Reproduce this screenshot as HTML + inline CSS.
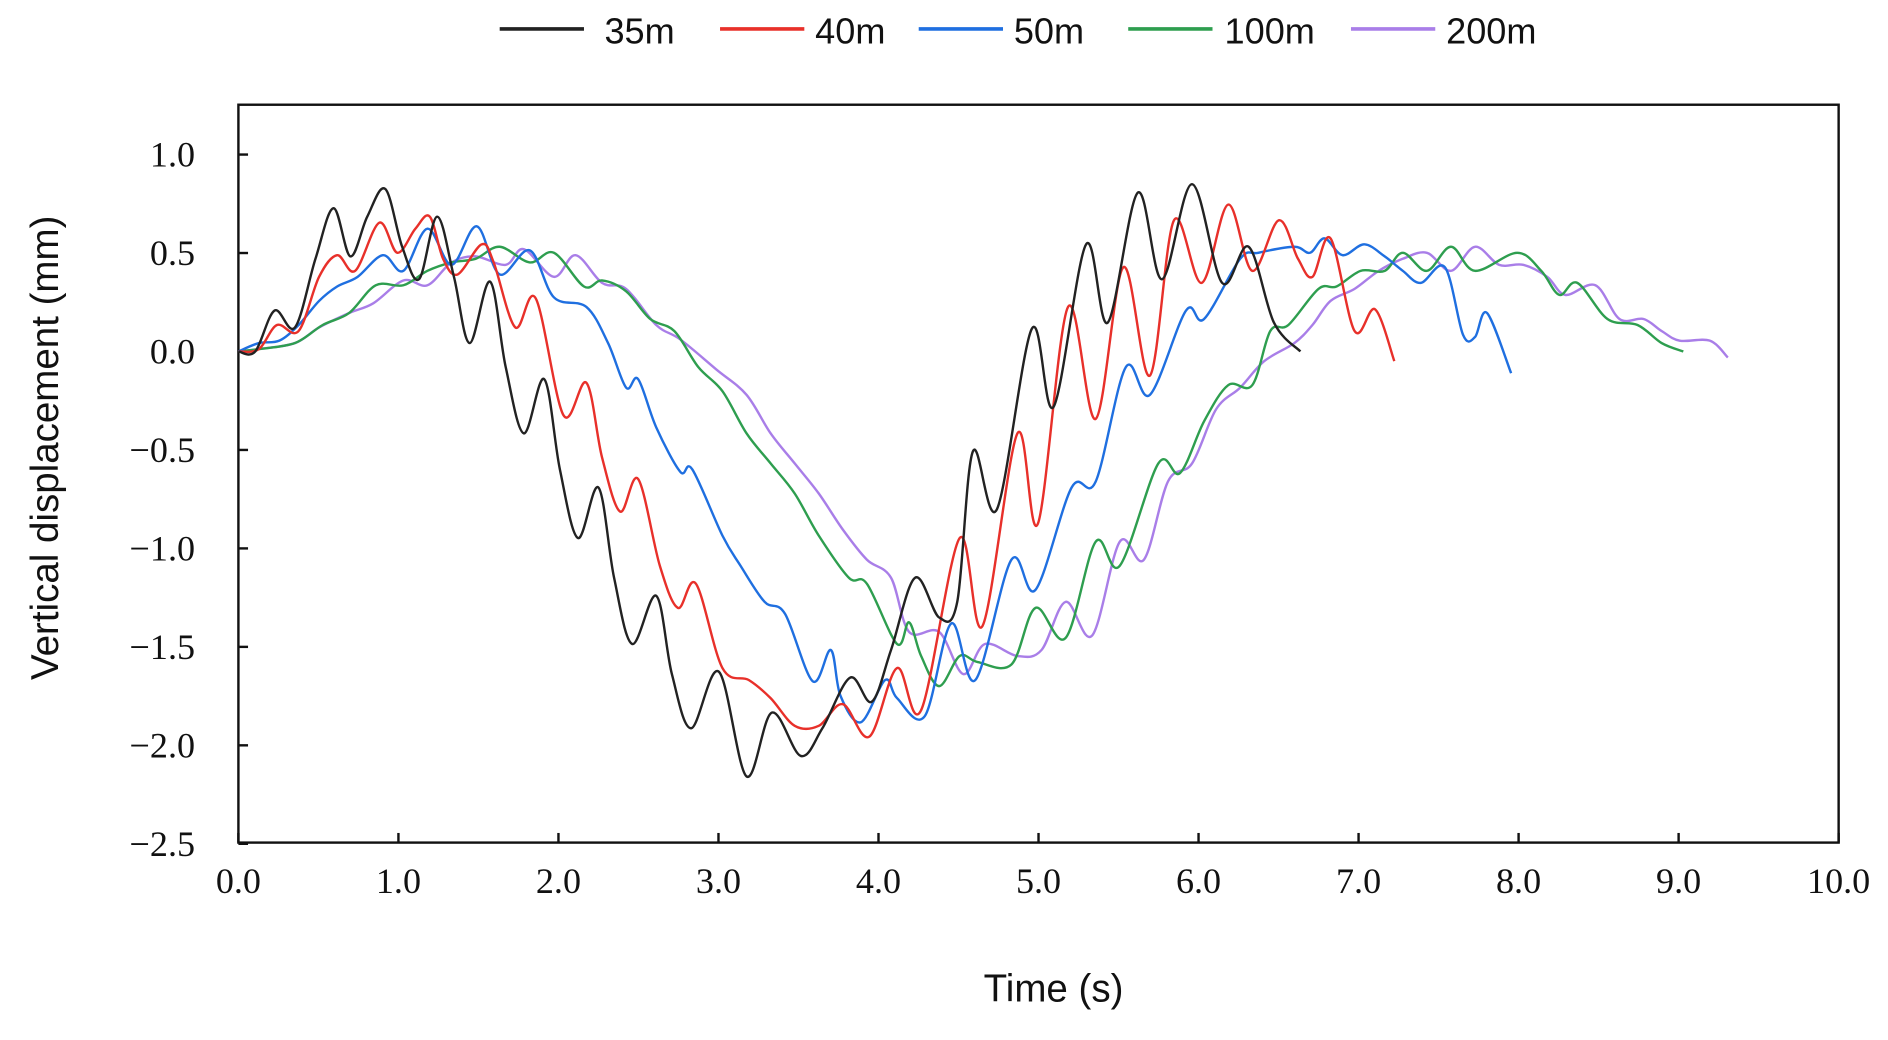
<!DOCTYPE html>
<html><head><meta charset="utf-8"><style>
html,body{margin:0;padding:0;background:#fff;}
svg{display:block;}
.tk{font-family:"Liberation Serif",serif;font-size:30px;fill:#111;}
.lg{font-family:"Liberation Sans",sans-serif;font-size:30px;fill:#111;}
</style></head><body>
<svg id="s" width="1888" height="1040" viewBox="0 0 1568 864" preserveAspectRatio="none" xmlns="http://www.w3.org/2000/svg">
<rect width="1568" height="864" fill="#fff"/>
<g stroke-width="3">
<line x1="415" y1="24" x2="485" y2="24" stroke="#222"/>
<line x1="598" y1="24" x2="668" y2="24" stroke="#e8302a"/>
<line x1="763" y1="24" x2="833" y2="24" stroke="#1f6fe0"/>
<line x1="937" y1="24" x2="1007" y2="24" stroke="#2e9e4f"/>
<line x1="1122" y1="24" x2="1192" y2="24" stroke="#a97ee8"/>
</g>
<text class="lg" x="502" y="36">35m</text>
<text class="lg" x="677" y="36">40m</text>
<text class="lg" x="842" y="36">50m</text>
<text class="lg" x="1017" y="36">100m</text>
<text class="lg" x="1201" y="36">200m</text>
<rect x="198" y="87" width="1329" height="613" fill="none" stroke="#111" stroke-width="2"/>
<g id="ticks" stroke="#111" stroke-width="2"></g>
<g id="labels"></g>
<text x="875" y="832" text-anchor="middle" class="lg" style="font-size:32px">Time (s)</text>
<text transform="translate(48,372) rotate(-90)" text-anchor="middle" class="lg" style="font-size:32px">Vertical displacement (mm)</text>
<g id="curves" fill="none" stroke-width="2" stroke-linejoin="round"></g>
</svg>
<script>
var NS="http://www.w3.org/2000/svg";
function el(t,a,p,txt){var e=document.createElementNS(NS,t);for(var k in a)e.setAttribute(k,a[k]);if(txt)e.textContent=txt;p.appendChild(e);return e;}
var tk=document.getElementById('ticks'),lb=document.getElementById('labels');
for(var i=0;i<=10;i++){var x=198+132.9*i;el('line',{x1:x,y1:700,x2:x,y2:692},tk);el('text',{x:x,y:742,'text-anchor':'middle','class':'tk'},lb,i.toFixed(1));}
var yv=[1.0,0.5,0.0,-0.5,-1.0,-1.5,-2.0,-2.5];
yv.forEach(function(v){var y=292-163.6*v;el('line',{x1:198,y1:y,x2:206,y2:y},tk);el('text',{x:162,y:y+10,'text-anchor':'end','class':'tk'},lb,(v<0?'\u2212':'')+Math.abs(v).toFixed(1));});
var D={
"#222":[[198,292],[212,292],[228,258],[245,272],[262,215],[277,173],[291,213],[305,180],[320,157],[334,205],[348,232],[363,180],[377,230],[390,285],[407,234],[420,305],[435,360],[452,315],[465,390],[480,447],[497,405],[510,480],[525,535],[545,495],[558,560],[574,605],[597,558],[620,645],[641,592],[665,628],[683,605],[706,563],[724,583],[740,540],[760,480],[780,513],[795,500],[808,375],[828,423],[857,273],[875,338],[902,203],[920,268],[945,160],[965,232],[990,153],[1015,235],[1037,205],[1058,268],[1080,292]],
"#e8302a":[[198,292],[215,290],[230,270],[248,275],[265,230],[280,212],[295,225],[315,185],[330,210],[345,190],[357,180],[368,215],[380,228],[400,203],[410,218],[428,272],[445,248],[468,345],[487,318],[500,380],[515,425],[530,398],[548,470],[563,505],[578,485],[600,555],[622,565],[640,580],[660,603],[680,603],[700,585],[722,612],[745,555],[765,590],[797,447],[816,520],[845,360],[862,435],[887,255],[910,348],[933,222],[955,312],[975,183],[998,235],[1020,170],[1040,225],[1062,183],[1078,215],[1090,230],[1105,198],[1125,275],[1142,257],[1158,300]],
"#1f6fe0":[[198,292],[215,285],[232,283],[248,270],[265,250],[280,238],[297,230],[318,212],[335,225],[355,190],[375,220],[396,188],[415,228],[440,208],[460,247],[487,255],[505,285],[520,322],[530,315],[545,355],[565,392],[575,390],[600,445],[615,470],[635,500],[652,510],[675,566],[690,540],[698,578],[715,600],[735,565],[745,580],[768,595],[790,518],[810,565],[840,465],[860,490],[890,405],[910,400],[935,305],[955,328],[985,258],[1000,265],[1030,215],[1045,210],[1075,205],[1088,210],[1100,198],[1115,212],[1133,203],[1150,213],[1165,225],[1180,235],[1200,222],[1215,278],[1225,280],[1235,260],[1255,310]],
"#2e9e4f":[[198,292],[215,290],[245,285],[268,270],[290,260],[312,237],[335,237],[355,225],[375,218],[395,215],[415,205],[440,218],[460,210],[485,238],[500,233],[520,242],[540,265],[560,275],[580,305],[600,325],[620,360],[640,385],[660,410],[680,445],[705,480],[720,485],[745,535],[755,517],[765,545],[780,570],[797,545],[812,550],[840,552],[860,505],[885,530],[910,450],[930,470],[962,385],[980,393],[1000,350],[1020,320],[1040,320],[1055,275],[1070,270],[1095,240],[1110,238],[1130,225],[1150,225],[1165,210],[1185,225],[1205,205],[1225,225],[1260,210],[1280,225],[1295,245],[1310,235],[1335,265],[1360,270],[1380,285],[1398,292]],
"#a97ee8":[[198,292],[215,290],[245,285],[265,272],[290,260],[310,252],[335,233],[355,237],[375,218],[395,213],[420,220],[435,207],[460,230],[478,212],[500,235],[520,240],[545,270],[565,282],[595,307],[620,328],[640,360],[660,385],[680,410],[700,440],[720,465],[740,480],[755,525],[780,525],[800,560],[818,535],[845,545],[865,540],[885,500],[907,528],[930,450],[950,465],[970,400],[990,385],[1010,340],[1030,322],[1050,300],[1075,285],[1090,270],[1105,250],[1125,240],[1145,225],[1165,215],[1185,210],[1205,225],[1225,205],[1245,220],[1265,220],[1285,230],[1300,245],[1325,237],[1345,265],[1365,265],[1380,275],[1395,283],[1420,283],[1435,297]]
};
var cg=document.getElementById('curves');
["#a97ee8","#2e9e4f","#1f6fe0","#e8302a","#222"].forEach(function(c){
var p=D[c],d="M"+p[0][0]+","+p[0][1];
for(var i=0;i<p.length-1;i++){var p0=p[i-1]||p[i],p1=p[i],p2=p[i+1],p3=p[i+2]||p2;
d+=" C"+(p1[0]+(p2[0]-p0[0])/6)+","+(p1[1]+(p2[1]-p0[1])/6)+" "+(p2[0]-(p3[0]-p1[0])/6)+","+(p2[1]-(p3[1]-p1[1])/6)+" "+p2[0]+","+p2[1];}
el('path',{d:d,stroke:c},cg);});
</script>
</body></html>
